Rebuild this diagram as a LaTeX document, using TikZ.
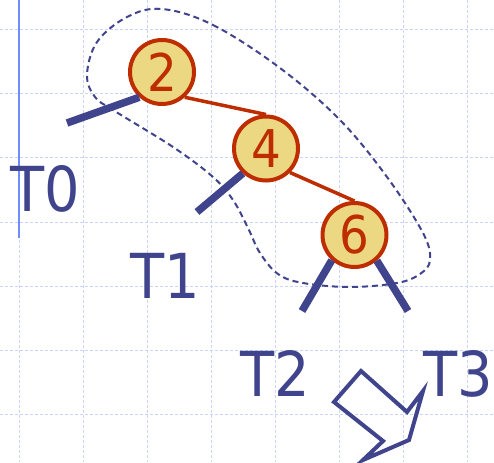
\documentclass[tikz,border=0pt]{standalone}
\usepackage{fontspec}
\IfFontExistsTF{DejaVu Sans Condensed}{\setmainfont{DejaVu Sans Condensed}}{\setmainfont{DejaVu Sans}}
\definecolor{ink}{RGB}{64,68,140}
\definecolor{nodered}{RGB}{190,45,0}
\definecolor{nodefill}{RGB}{236,216,130}
\definecolor{gridc}{RGB}{200,212,250}
\definecolor{axisc}{RGB}{110,140,255}
\tikzset{
  gridline/.style={draw=gridc, line width=1pt, dash pattern=on 3pt off 2pt},
  treenode/.style={circle, draw=nodered, fill=nodefill, line width=4pt, minimum size=64pt, inner sep=0pt, text=nodered, font=\fontsize{52}{58}\selectfont},
  treeedge/.style={draw=nodered, line width=3.5pt},
  subedge/.style={draw=ink, line width=7.5pt},
  sublabel/.style={text=ink, font=\fontsize{62}{70}\selectfont, anchor=base, inner sep=0pt},
  outline/.style={draw=ink, line width=2pt, dash pattern=on 6pt off 4pt},
}
\begin{document}
\begin{tikzpicture}[x=1pt,y=-1pt]
\fill[white] (0,0) rectangle (494,462);
\useasboundingbox (0,0) rectangle (494,462);
\foreach \x in {19,83,147,211,275,339,403,467} \draw[gridline] (\x,0) -- (\x,462);
\foreach \y in {30,94,158,222,286,350,414} \draw[gridline] (0,\y) -- (494,\y);
\draw[axisc, line width=1.8pt] (19,0) -- (19,238);

% dashed outline
\draw[outline] plot[smooth cycle, tension=0.6] coordinates {
 (162,9) (213,25) (280,68) (340,120) (387,177) (423,233) (430,260) (420,274)
 (397,283) (350,287) (303,283) (278,274) (260,253) (248,228) (233,200) (213,177)
 (173,147) (113,110) (95,97) (87,75) (97,42) (127,17)};

\node[treenode] (n2) at (162,72) {2};
\node[treenode] (n4) at (266,148.5) {4};
\node[treenode] (n6) at (354.5,235) {6};

\draw[treeedge] (n2.-48) -- (n4.north);
\draw[treeedge] (n4.-45) -- (n6.north);

\coordinate (e0) at (67,123);
\coordinate (e1) at (197,212);
\coordinate (e2) at (302,311);
\coordinate (e3) at (408,311);
\draw[subedge] (n2.-132) -- (e0);
\draw[subedge] (n4.-133) -- (e1);
\draw[subedge] (n6.-132) -- (e2);
\draw[subedge] (n6.-49) -- (e3);

\node[sublabel] (t0) at (45.5,211) {T0};
\node[sublabel] (t1) at (165.5,298) {T1};
\node[sublabel] (t2) at (275.5,396) {T2};
\node[sublabel] (t3) at (458,396) {T3};

\draw[ink, line width=4pt, line join=miter] (361,371) -- (334,402) -- (383,441) -- (363,460) -- (409,440) -- (423,391) -- (407,412) -- cycle;
\end{tikzpicture}
\end{document}
